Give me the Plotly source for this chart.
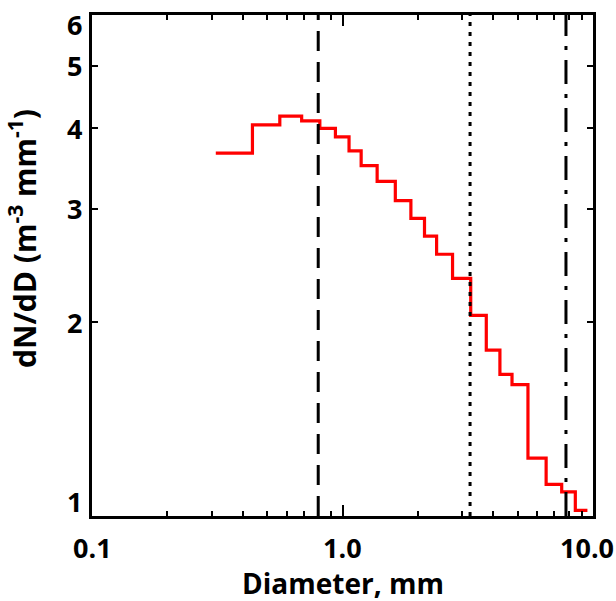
import plotly.graph_objects as go
import numpy as np

# Data
diam = [0.312, 0.437, 0.562, 0.687, 0.812, 0.937, 1.062, 1.187, 1.375, 1.625,
        1.875, 2.125, 2.375, 2.75, 3.25, 3.75, 4.25, 4.75, 5.5, 6.5, 7.5, 8.5, 9.5]
dndd = [3.66, 4.05, 4.18, 4.11, 4.00, 3.88, 3.69, 3.50, 3.31, 3.09,
        2.90, 2.72, 2.55, 2.34, 2.05, 1.81, 1.66, 1.60, 1.23, 1.12, 1.09, 1.02, 1.02]
vline_x = [0.80, 3.23, 7.8]
vline_dash = ["20px,11px", "4px,6px", "24px,10px,4px,10px"]
x_range = [0.1, 10.0]
y_range = [1, 6]
xtick_vals = [0.1, 1.0, 10.0]
xtick_text = ["0.1", "1.0", "10.0"]
xminor_vals = [m * 10.0 ** e for e in (-1, 0) for m in range(1, 10)] + [10.0]
ytick_vals = [1, 2, 3, 4, 5, 6]
ytick_text = ["1", "2", "3", "4", "5", "6"]

FONT = "Open Sans"
FS = 27
tfont = dict(family=FONT, size=FS, color="black", weight="bold")

fig = go.Figure()
fig.add_trace(go.Scatter(x=diam, y=dndd, mode="lines", line_shape="hv",
                         line=dict(color="#ff0000", width=3.2), showlegend=False,
                         hoverinfo="skip"))
for xv, dsh in zip(vline_x, vline_dash):
    fig.add_trace(go.Scatter(x=[xv, xv], y=y_range, mode="lines", xaxis="x2",
                             line=dict(color="black", width=3, dash=dsh),
                             showlegend=False, hoverinfo="skip"))

xr = [np.log10(x_range[0]), np.log10(x_range[1])]
fig.update_layout(
    xaxis=dict(type="log", range=xr,
               showline=True, linecolor="black", linewidth=3, mirror="ticks",
               ticks="inside", ticklen=5, tickwidth=2, tickcolor="black",
               tickmode="array", tickvals=xminor_vals, showticklabels=False,
               showgrid=False, zeroline=False),
    xaxis2=dict(type="log", range=xr, overlaying="x", anchor="y", side="bottom",
                showline=False, mirror="ticks",
                ticks="inside", ticklen=11, tickwidth=2, tickcolor="black",
                tickmode="array", tickvals=xtick_vals, showticklabels=False,
                showgrid=False, zeroline=False),
    yaxis=dict(type="log", range=[np.log10(y_range[0]), np.log10(y_range[1])],
               showline=True, linecolor="black", linewidth=3, mirror="ticks",
               ticks="inside", ticklen=6, tickwidth=2, tickcolor="black",
               tickmode="array", tickvals=ytick_vals, showticklabels=False,
               showgrid=False, zeroline=False),
)

annotations = []
ny = len(ytick_vals)
for i, (v, t) in enumerate(zip(ytick_vals, ytick_text)):
    ys = 15 if i == 0 else (-9 if i == ny - 1 else 0)
    annotations.append(dict(x=0, xref="paper", xanchor="right", xshift=-8,
                            y=np.log10(v), yref="y", yanchor="middle", yshift=ys,
                            text=t, showarrow=False, font=tfont))
nx = len(xtick_vals)
for i, (v, t) in enumerate(zip(xtick_vals, xtick_text)):
    xs = -6 if i == nx - 1 else 0
    annotations.append(dict(x=np.log10(v), xref="x", xanchor="center", xshift=xs,
                            y=0, yref="paper", yanchor="middle", yshift=-31,
                            text=t, showarrow=False, font=tfont))
annotations.append(dict(x=0.5, xref="paper", xanchor="center",
                        y=0, yref="paper", yanchor="middle", yshift=-67,
                        text="Diameter, mm", showarrow=False,
                        font=dict(family=FONT, size=28, color="black", weight="bold")))
annotations.append(dict(x=0, xref="paper", xanchor="center", xshift=-69,
                        y=0.553, yref="paper", yanchor="middle",
                        text="dN/dD (m<sup>-3</sup> mm<sup>-1</sup>)", textangle=-90,
                        showarrow=False,
                        font=dict(family=FONT, size=30, color="black", weight="bold")))

fig.update_layout(width=616, height=601, margin=dict(l=92, r=23, t=15, b=85),
                  paper_bgcolor="white", plot_bgcolor="white",
                  annotations=annotations)

fig.write_html("out.html")
